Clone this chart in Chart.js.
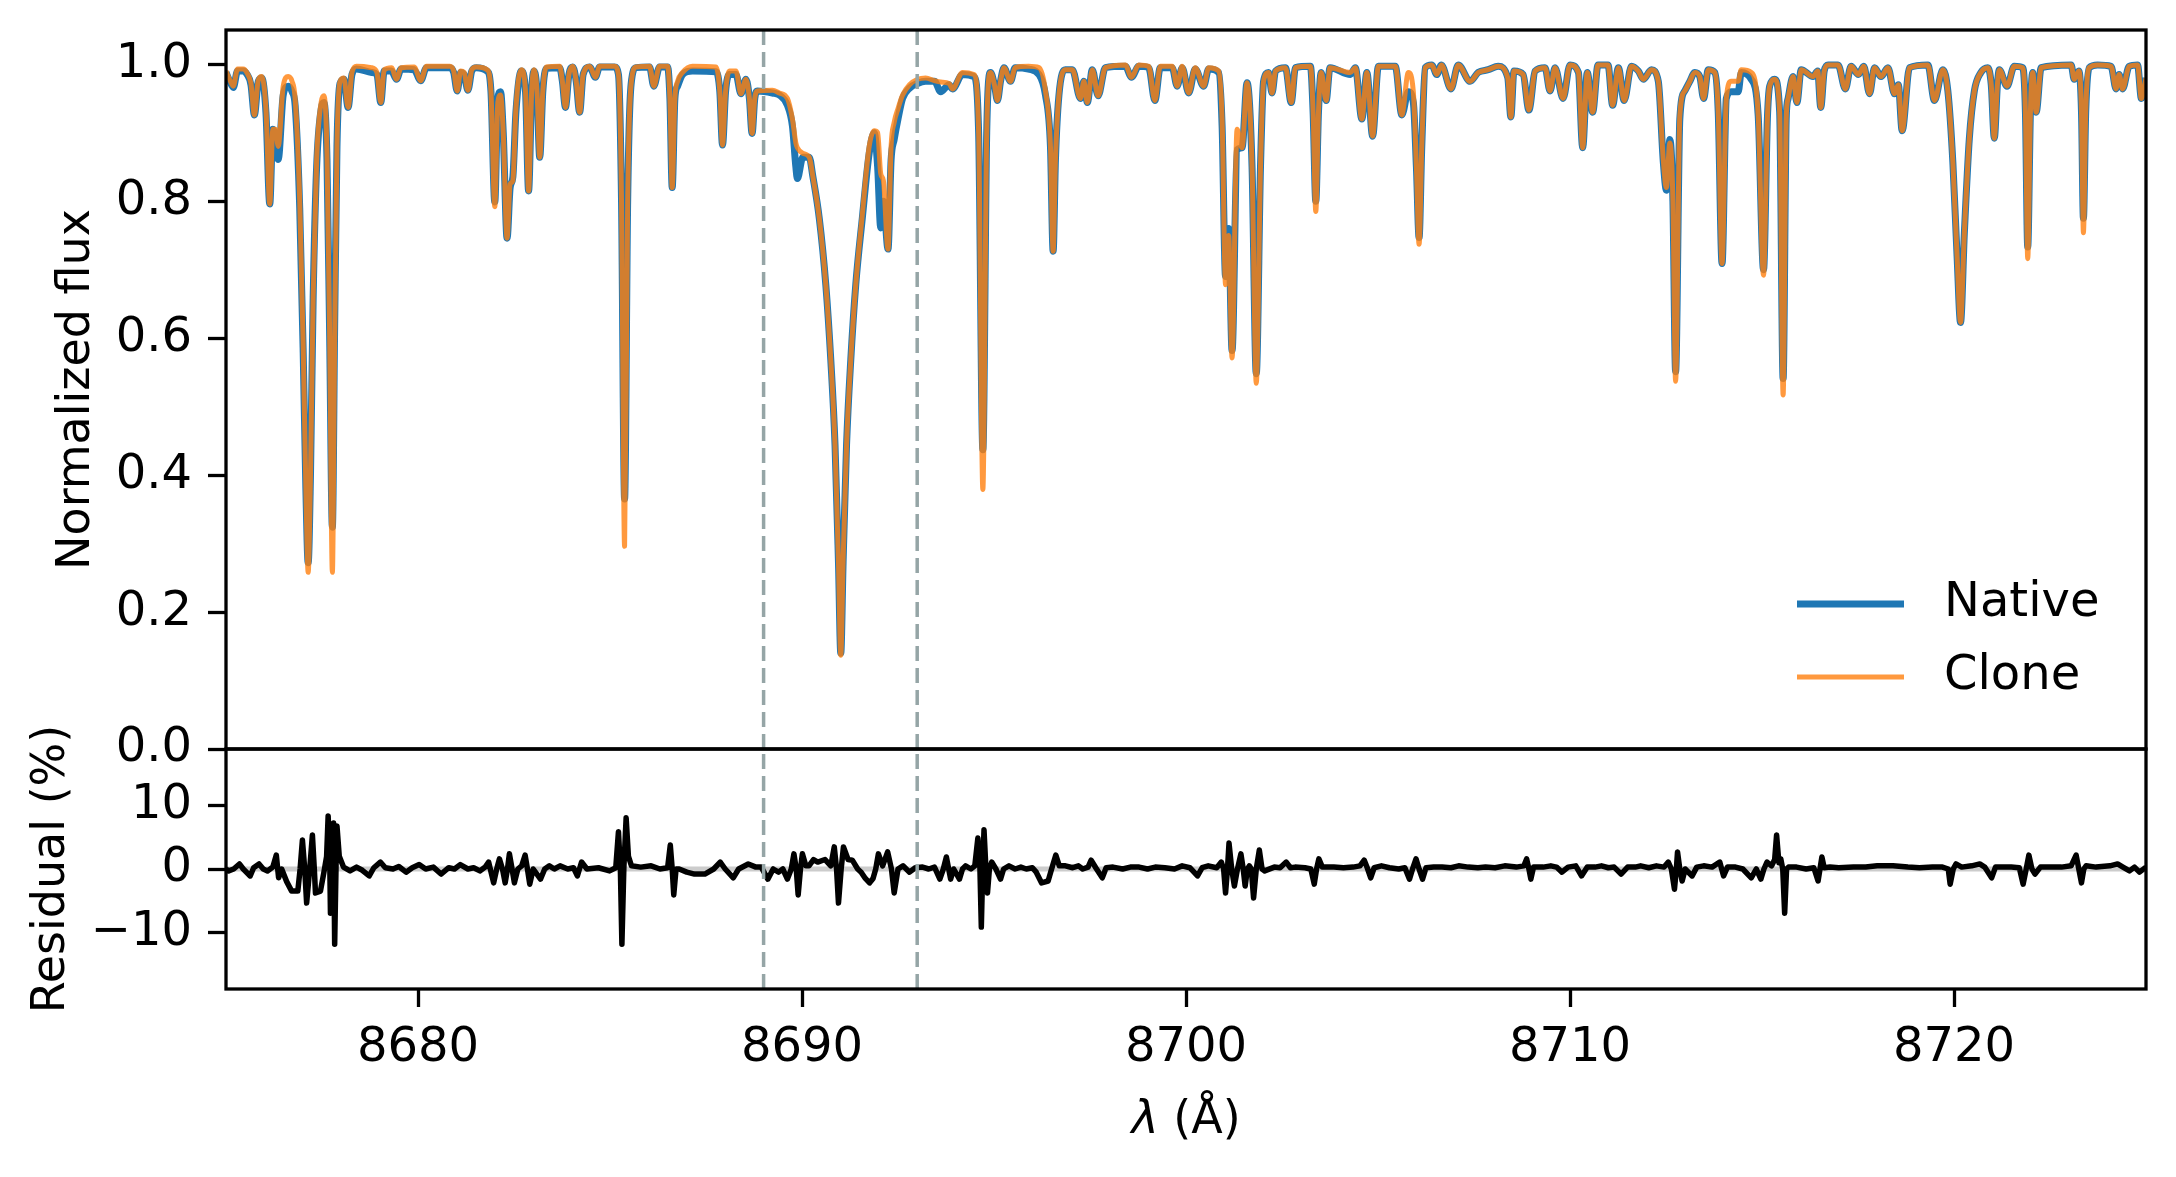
<!DOCTYPE html>
<html>
<head>
<meta charset="utf-8">
<script src="https://cdn.jsdelivr.net/npm/chart.js@4.4.1/dist/chart.umd.min.js"></script>
<style>
  html, body { margin: 0; padding: 0; background: #fff; }
  canvas { display: block; }
</style>
</head>
<body>
<canvas id="spec" width="2176" height="1177"></canvas>
<script>
// upper panel: wavelength grid (Å) and the two spectra
const wave = [
  8675.00, 8675.10, 8675.19, 8675.30, 8675.45, 8675.55, 8675.65, 8675.74, 8675.84, 8675.93,
  8676.04, 8676.14, 8676.22, 8676.29, 8676.36, 8676.49, 8676.62, 8676.72, 8676.80, 8676.92,
  8677.01, 8677.08, 8677.14, 8677.20, 8677.27, 8677.36, 8677.48, 8677.55, 8677.63, 8677.70,
  8677.77, 8677.83, 8677.89, 8677.97, 8678.07, 8678.18, 8678.28, 8678.40, 8678.79, 8678.93,
  8679.03, 8679.12, 8679.31, 8679.44, 8679.56, 8679.90, 8680.07, 8680.22, 8680.83, 8680.93,
  8681.02, 8681.11, 8681.20, 8681.30, 8681.40, 8681.52, 8681.80, 8681.90, 8682.00, 8682.08,
  8682.15, 8682.22, 8682.32, 8682.40, 8682.47, 8682.55, 8682.69, 8682.80, 8682.88, 8682.96,
  8683.02, 8683.10, 8683.17, 8683.25, 8683.34, 8683.69, 8683.76, 8683.84, 8683.93, 8684.03,
  8684.12, 8684.21, 8684.30, 8684.47, 8684.62, 8684.73, 8685.12, 8685.22, 8685.30, 8685.38,
  8685.46, 8685.55, 8685.68, 8686.03, 8686.14, 8686.29, 8686.50, 8686.56, 8686.62, 8686.69,
  8686.76, 8686.89, 8687.15, 8687.76, 8687.86, 8687.93, 8688.01, 8688.11, 8688.28, 8688.41,
  8688.54, 8688.63, 8688.70, 8688.77, 8688.84, 8689.23, 8689.41, 8689.62, 8689.75, 8689.84,
  8689.88, 8690.02, 8690.19, 8690.28, 8690.45, 8690.62, 8690.75, 8690.86, 8690.95, 8691.01,
  8691.07, 8691.16, 8691.27, 8691.40, 8691.57, 8691.75,
  8691.88, 8691.97, 8692.05, 8692.12, 8692.24, 8692.32, 8692.40,
  8692.50, 8692.62, 8692.80, 8693.01, 8693.22, 8693.45, 8693.61, 8693.83, 8693.92, 8694.18,
  8694.48, 8694.60, 8694.71, 8694.81, 8694.91, 8695.01, 8695.09, 8695.17, 8695.26, 8695.43,
  8695.55, 8695.90, 8696.17, 8696.34, 8696.47, 8696.54, 8696.60, 8696.69, 8696.86, 8697.04,
  8697.25, 8697.34, 8697.43, 8697.56, 8697.71, 8697.90, 8698.42, 8698.58, 8698.77, 8699.03,
  8699.19, 8699.33, 8699.64, 8699.77, 8699.90, 8700.07, 8700.24, 8700.46, 8700.59, 8700.85,
  8700.94, 8701.03, 8701.11, 8701.20, 8701.33, 8701.46, 8701.59, 8701.72, 8701.83, 8701.94,
  8702.02, 8702.15, 8702.24, 8702.33, 8702.59, 8702.74, 8702.85, 8703.24, 8703.31, 8703.38,
  8703.45, 8703.52, 8703.65, 8703.75, 8704.28, 8704.41, 8704.58, 8704.71, 8704.86, 8705.01,
  8705.45, 8705.62, 8705.79, 8705.92, 8706.00, 8706.07, 8706.14, 8706.23, 8706.40, 8706.53,
  8706.65, 8706.90, 8707.09, 8707.40, 8707.61, 8707.87, 8708.13, 8708.38, 8708.46, 8708.54,
  8708.78, 8708.93, 8709.09, 8709.35, 8709.48, 8709.61, 8709.82, 8710.00, 8710.22, 8710.33,
  8710.45, 8710.59, 8710.73, 8710.99, 8711.11, 8711.26, 8711.41, 8711.60, 8711.78, 8711.91,
  8712.12, 8712.30, 8712.43, 8712.51, 8712.60, 8712.68, 8712.75, 8712.86, 8712.99, 8713.12,
  8713.25, 8713.38, 8713.48, 8713.60, 8713.77, 8713.86, 8713.96, 8714.07, 8714.20, 8714.38,
  8714.46, 8714.72, 8714.90, 8715.04, 8715.14, 8715.20, 8715.33, 8715.46, 8715.55, 8715.63,
  8715.68, 8715.81, 8715.91, 8716.02, 8716.33, 8716.45, 8716.53, 8716.62, 8716.72, 8716.98,
  8717.17, 8717.32, 8717.51, 8717.65, 8717.80, 8717.93, 8718.10, 8718.28, 8718.45, 8718.55,
  8718.65, 8718.84, 8719.32, 8719.49, 8719.71, 8719.84, 8719.97, 8720.08, 8720.17, 8720.27,
  8720.40, 8720.53, 8720.70, 8720.88, 8720.97, 8721.05, 8721.13, 8721.18, 8721.38, 8721.57,
  8721.79, 8721.86, 8721.92, 8721.99, 8722.05, 8722.14, 8722.27, 8723.05, 8723.13, 8723.25,
  8723.32, 8723.37, 8723.43, 8723.52, 8723.74, 8724.09, 8724.22, 8724.30, 8724.39, 8724.56,
  8724.78, 8724.88, 8725.00
];

const nativeFlux = [
  0.988, 0.975, 0.966, 0.990, 0.990, 0.985, 0.970, 0.926, 0.975, 0.980,
  0.930, 0.796, 0.905, 0.895, 0.861, 0.955, 0.968, 0.960, 0.940, 0.790,
  0.580, 0.380, 0.272, 0.400, 0.660, 0.850, 0.935, 0.944, 0.860, 0.600,
  0.324, 0.620, 0.880, 0.972, 0.978, 0.937, 0.985, 0.993, 0.988, 0.985,
  0.944, 0.990, 0.990, 0.978, 0.993, 0.992, 0.976, 0.995, 0.995, 0.988,
  0.961, 0.988, 0.985, 0.962, 0.990, 0.995, 0.990, 0.960, 0.799, 0.950,
  0.960, 0.900, 0.746, 0.820, 0.835, 0.930, 0.990, 0.960, 0.815, 0.960,
  0.990, 0.960, 0.864, 0.960, 0.994, 0.995, 0.975, 0.937, 0.985, 0.996,
  0.975, 0.930, 0.985, 0.996, 0.981, 0.996, 0.996, 0.985, 0.800, 0.365,
  0.800, 0.971, 0.995, 0.996, 0.968, 0.996, 0.996, 0.950, 0.820, 0.950,
  0.968, 0.985, 0.990, 0.989, 0.960, 0.882, 0.960, 0.985, 0.985, 0.957,
  0.978, 0.950, 0.899, 0.950, 0.961, 0.958, 0.955, 0.940, 0.910, 0.850,
  0.833, 0.864, 0.864, 0.837, 0.775, 0.678, 0.568, 0.444, 0.272, 0.140,
  0.272, 0.444, 0.568, 0.678, 0.775, 0.870,
  0.900, 0.850, 0.761, 0.800, 0.730, 0.860, 0.890,
  0.920, 0.950, 0.965, 0.972, 0.975, 0.975, 0.960, 0.970, 0.964, 0.985,
  0.982, 0.900, 0.437, 0.900, 0.988, 0.970, 0.947, 0.975, 0.995, 0.975,
  0.995, 0.993, 0.985, 0.955, 0.880, 0.727, 0.860, 0.954, 0.992, 0.992,
  0.950, 0.975, 0.944, 0.992, 0.954, 0.995, 0.997, 0.981, 0.997, 0.995,
  0.947, 0.995, 0.995, 0.968, 0.995, 0.958, 0.993, 0.968, 0.993, 0.988,
  0.910, 0.690, 0.760, 0.582, 0.875, 0.878, 0.973, 0.850, 0.548, 0.850,
  0.975, 0.988, 0.958, 0.990, 0.995, 0.944, 0.995, 0.997, 0.930, 0.800,
  0.930, 0.988, 0.947, 0.995, 0.985, 0.995, 0.920, 0.988, 0.895, 0.997,
  0.997, 0.926, 0.960, 0.944, 0.850, 0.747, 0.880, 0.995, 0.999, 0.985,
  0.999, 0.964, 0.999, 0.975, 0.988, 0.992, 0.997, 0.980, 0.923, 0.990,
  0.985, 0.933, 0.990, 0.995, 0.961, 0.995, 0.950, 0.999, 0.988, 0.878,
  0.988, 0.930, 0.999, 0.999, 0.940, 0.995, 0.947, 0.997, 0.990, 0.978,
  0.992, 0.975, 0.857, 0.816, 0.890, 0.800, 0.551, 0.920, 0.961, 0.975,
  0.988, 0.982, 0.950, 0.992, 0.988, 0.930, 0.709, 0.950, 0.960, 0.960,
  0.988, 0.978, 0.926, 0.700, 0.920, 0.968, 0.978, 0.930, 0.541, 0.920,
  0.950, 0.982, 0.944, 0.992, 0.982, 0.990, 0.937, 0.990, 0.999, 0.999,
  0.964, 0.997, 0.985, 0.997, 0.957, 0.995, 0.982, 0.995, 0.957, 0.970,
  0.903, 0.995, 0.999, 0.947, 0.992, 0.961, 0.857, 0.720, 0.623, 0.754,
  0.892, 0.961, 0.988, 0.995, 0.970, 0.892, 0.970, 0.992, 0.968, 0.997,
  0.995, 0.930, 0.733, 0.930, 0.988, 0.930, 0.995, 0.999, 0.978, 0.990,
  0.930, 0.775, 0.930, 0.995, 0.999, 0.997, 0.964, 0.985, 0.964, 0.997,
  0.999, 0.950, 0.980
];

const cloneFlux = [
  0.990, 0.977, 0.968, 0.993, 0.993, 0.987, 0.972, 0.926, 0.977, 0.982,
  0.935, 0.796, 0.905, 0.905, 0.880, 0.968, 0.982, 0.975, 0.950, 0.800,
  0.590, 0.380, 0.258, 0.400, 0.660, 0.860, 0.945, 0.954, 0.870, 0.600,
  0.258, 0.600, 0.880, 0.975, 0.980, 0.937, 0.988, 0.997, 0.995, 0.988,
  0.944, 0.992, 0.995, 0.978, 0.995, 0.996, 0.976, 0.997, 0.997, 0.990,
  0.961, 0.990, 0.988, 0.962, 0.992, 0.996, 0.992, 0.960, 0.792, 0.945,
  0.955, 0.900, 0.746, 0.825, 0.830, 0.935, 0.992, 0.960, 0.815, 0.960,
  0.992, 0.960, 0.864, 0.960, 0.996, 0.997, 0.975, 0.937, 0.985, 0.997,
  0.975, 0.930, 0.985, 0.997, 0.981, 0.997, 0.997, 0.985, 0.800, 0.296,
  0.800, 0.971, 0.996, 0.997, 0.968, 0.997, 0.997, 0.950, 0.820, 0.950,
  0.975, 0.988, 0.997, 0.996, 0.960, 0.882, 0.960, 0.990, 0.990, 0.957,
  0.978, 0.950, 0.899, 0.950, 0.961, 0.962, 0.958, 0.950, 0.920, 0.885,
  0.878, 0.870, 0.864, 0.837, 0.775, 0.678, 0.568, 0.444, 0.272, 0.137,
  0.272, 0.444, 0.568, 0.678, 0.780, 0.880,
  0.903, 0.900, 0.840, 0.830, 0.730, 0.880, 0.915,
  0.935, 0.955, 0.970, 0.978, 0.980, 0.976, 0.974, 0.972, 0.964, 0.988,
  0.985, 0.900, 0.379, 0.900, 0.988, 0.970, 0.947, 0.975, 0.995, 0.975,
  0.995, 0.997, 0.995, 0.961, 0.880, 0.727, 0.860, 0.954, 0.992, 0.992,
  0.950, 0.975, 0.944, 0.992, 0.954, 0.995, 0.999, 0.981, 0.999, 0.997,
  0.947, 0.997, 0.997, 0.968, 0.997, 0.958, 0.995, 0.968, 0.995, 0.990,
  0.920, 0.678, 0.750, 0.571, 0.905, 0.878, 0.973, 0.850, 0.534, 0.850,
  0.975, 0.988, 0.958, 0.990, 0.995, 0.944, 0.995, 0.997, 0.930, 0.785,
  0.930, 0.988, 0.947, 0.995, 0.988, 0.995, 0.920, 0.988, 0.895, 0.997,
  0.997, 0.926, 0.988, 0.960, 0.850, 0.737, 0.880, 0.995, 0.999, 0.985,
  0.999, 0.964, 0.999, 0.975, 0.988, 0.992, 0.997, 0.980, 0.923, 0.990,
  0.985, 0.933, 0.990, 0.995, 0.961, 0.995, 0.950, 0.999, 0.988, 0.878,
  0.988, 0.930, 0.999, 0.999, 0.940, 0.995, 0.947, 0.997, 0.990, 0.978,
  0.992, 0.975, 0.860, 0.820, 0.885, 0.800, 0.537, 0.925, 0.961, 0.975,
  0.988, 0.982, 0.950, 0.992, 0.988, 0.930, 0.709, 0.950, 0.975, 0.975,
  0.992, 0.988, 0.926, 0.692, 0.920, 0.968, 0.978, 0.930, 0.517, 0.920,
  0.950, 0.982, 0.944, 0.992, 0.982, 0.990, 0.937, 0.990, 0.999, 0.999,
  0.964, 0.997, 0.985, 0.997, 0.957, 0.995, 0.982, 0.995, 0.957, 0.970,
  0.903, 0.995, 0.999, 0.947, 0.992, 0.961, 0.857, 0.720, 0.623, 0.754,
  0.892, 0.961, 0.988, 0.995, 0.970, 0.892, 0.970, 0.992, 0.968, 0.997,
  0.995, 0.930, 0.716, 0.930, 0.988, 0.930, 0.995, 0.999, 0.978, 0.990,
  0.930, 0.754, 0.930, 0.995, 0.999, 0.997, 0.964, 0.985, 0.964, 0.997,
  0.999, 0.950, 0.980
];

// lower panel: residual in percent
const residWave = [
  8675.00, 8675.07, 8675.20, 8675.35, 8675.45, 8675.63, 8675.72, 8675.86, 8675.97, 8676.08,
  8676.22, 8676.31, 8676.37, 8676.45, 8676.58, 8676.71, 8676.87, 8676.93, 8676.99, 8677.05,
  8677.10, 8677.18, 8677.25, 8677.30, 8677.33, 8677.46, 8677.55, 8677.62, 8677.66, 8677.70,
  8677.72, 8677.76, 8677.80, 8677.83, 8677.87, 8677.89, 8677.95, 8678.06, 8678.23, 8678.40,
  8678.55, 8678.73, 8678.85, 8679.02, 8679.15, 8679.35, 8679.50, 8679.69, 8679.85, 8680.03,
  8680.20, 8680.40, 8680.60, 8680.80, 8680.95, 8681.10, 8681.30, 8681.45, 8681.61, 8681.75,
  8681.84, 8681.97, 8682.05, 8682.12, 8682.20, 8682.27, 8682.33, 8682.38, 8682.45, 8682.51,
  8682.60, 8682.70, 8682.79, 8682.85, 8682.91, 8683.00, 8683.19, 8683.30, 8683.42, 8683.55,
  8683.70, 8683.90, 8684.05, 8684.15, 8684.26, 8684.40, 8684.70, 8684.99, 8685.15, 8685.22,
  8685.27, 8685.31, 8685.36, 8685.42, 8685.48, 8685.56, 8685.80, 8686.07, 8686.30, 8686.50,
  8686.57, 8686.62, 8686.66, 8686.72, 8686.80, 8687.00, 8687.20, 8687.47, 8687.70, 8687.87,
  8688.00, 8688.21, 8688.35, 8688.60, 8688.80, 8688.94, 8689.11, 8689.25, 8689.39, 8689.50,
  8689.62, 8689.72, 8689.79, 8689.85, 8689.90, 8689.96, 8690.01, 8690.10, 8690.18, 8690.30,
  8690.41, 8690.60, 8690.75, 8690.84, 8690.90, 8690.95, 8691.02, 8691.08, 8691.20, 8691.31,
  8691.45, 8691.54, 8691.65, 8691.76, 8691.85, 8691.92, 8691.99, 8692.10, 8692.23, 8692.33,
  8692.40, 8692.50, 8692.63, 8692.80, 8692.95, 8693.14, 8693.30, 8693.45, 8693.59, 8693.68,
  8693.76, 8693.82, 8693.87, 8693.95, 8694.10, 8694.18, 8694.26, 8694.40, 8694.50, 8694.58,
  8694.63, 8694.67, 8694.71, 8694.74, 8694.79, 8694.83, 8694.88, 8694.94, 8695.05, 8695.17,
  8695.25, 8695.39, 8695.55, 8695.70, 8695.84, 8696.00, 8696.10, 8696.24, 8696.41, 8696.50,
  8696.61, 8696.70, 8696.86, 8697.05, 8697.20, 8697.31, 8697.45, 8697.53, 8697.65, 8697.82,
  8697.92, 8698.10, 8698.35, 8698.55, 8698.78, 8699.00, 8699.20, 8699.45, 8699.70, 8699.90,
  8700.10, 8700.30, 8700.42, 8700.58, 8700.80, 8700.92, 8700.98, 8701.03, 8701.08, 8701.12,
  8701.19, 8701.26, 8701.34, 8701.43, 8701.49, 8701.54, 8701.60, 8701.65, 8701.70, 8701.76,
  8701.83, 8701.91, 8701.98, 8702.05, 8702.30, 8702.45, 8702.61, 8702.72, 8702.84, 8703.10,
  8703.25, 8703.34, 8703.40, 8703.46, 8703.55, 8703.85, 8704.10, 8704.35, 8704.53, 8704.64,
  8704.72, 8704.81, 8704.90, 8705.09, 8705.30, 8705.54, 8705.70, 8705.82, 8705.90, 8705.99,
  8706.07, 8706.16, 8706.25, 8706.45, 8706.67, 8706.90, 8707.10, 8707.35, 8707.60, 8707.80,
  8708.05, 8708.30, 8708.60, 8708.80, 8708.87, 8708.93, 8708.98, 8709.05, 8709.30, 8709.50,
  8709.65, 8709.79, 8709.95, 8710.15, 8710.30, 8710.45, 8710.65, 8710.82, 8711.00, 8711.15,
  8711.33, 8711.50, 8711.70, 8711.84, 8712.05, 8712.25, 8712.45, 8712.56, 8712.64, 8712.72,
  8712.77, 8712.80, 8712.86, 8712.92, 8713.00, 8713.18, 8713.30, 8713.48, 8713.70, 8713.90,
  8713.95, 8714.00, 8714.10, 8714.31, 8714.50, 8714.72, 8714.85, 8714.97, 8715.05, 8715.13,
  8715.25, 8715.33, 8715.38, 8715.44, 8715.49, 8715.54, 8715.59, 8715.64, 8715.69, 8715.90,
  8716.15, 8716.35, 8716.46, 8716.51, 8716.56, 8716.62, 8716.77, 8717.00, 8717.38, 8717.70,
  8718.00, 8718.41, 8718.80, 8719.10, 8719.44, 8719.70, 8719.85, 8719.90, 8719.98, 8720.05,
  8720.20, 8720.46, 8720.67, 8720.80, 8720.98, 8721.08, 8721.30, 8721.49, 8721.70, 8721.80,
  8721.88, 8721.95, 8722.03, 8722.11, 8722.25, 8722.52, 8722.80, 8723.05, 8723.18, 8723.25,
  8723.32, 8723.38, 8723.44, 8723.70, 8724.06, 8724.26, 8724.40, 8724.57, 8724.70, 8724.83,
  8725.00
];

const residPct = [
  0.0, -0.3, 0.0, 0.8, 0.0, -1.1, 0.2, 0.8, 0.0, -0.3,
  0.3, 2.2, -1.4, 0.0, -2.0, -3.5, -3.5, 0.0, 4.6, 0.0,
  -5.4, 0.0, 5.4, 0.0, -3.8, -3.5, -0.5, 2.0, 8.4, 2.0,
  -7.0, 3.0, 7.3, -11.9, 2.0, 6.8, 2.0, 0.3, -0.3, 0.3,
  -0.2, -1.1, 0.2, 1.1, 0.2, 0.0, 0.4, -0.5, 0.2, 0.7,
  0.0, 0.3, -0.8, 0.2, 0.0, 0.7, 0.0, 0.2, -0.3, 0.3,
  1.1, -2.2, 0.0, 1.6, 0.0, -2.2, 0.0, 2.4, 0.0, -2.2,
  0.0, 0.5, 2.2, 0.0, -2.4, 0.0, -1.6, 0.0, 0.5, 0.0,
  0.5, 0.0, 0.2, -1.1, 1.1, 0.0, 0.2, -0.3, 0.2, 5.9,
  0.0, -11.9, 0.0, 8.1, 2.0, 0.5, 0.3, 0.5, 0.0, 0.2,
  3.8, 0.0, -4.1, 0.0, 0.0, -0.5, -0.8, -0.8, 0.0, 1.1,
  0.0, -1.4, 0.0, 0.8, 0.3, 0.3, -1.6, 0.0, -0.5, 0.0,
  -1.6, 0.0, 2.4, 0.0, -4.1, 0.0, 2.4, 0.5, 0.5, 1.5,
  1.1, 1.5, 0.5, 3.5, 0.0, -5.4, 0.0, 3.5, 1.5, 1.4,
  0.0, -0.5, -1.5, -2.2, -1.5, 0.0, 2.4, 0.5, 2.7, 0.0,
  -3.8, 0.0, 0.5, -0.5, 0.2, 0.3, 0.0, 0.3, -1.6, 0.0,
  1.9, 0.0, -1.6, 0.0, -1.6, 0.0, 0.5, 0.0, 0.5, 4.9,
  1.0, -9.2, 1.0, 6.2, 0.0, -3.8, 0.0, 1.1, 0.0, -1.6,
  0.0, 0.5, 0.0, 0.3, 0.0, 0.2, -0.5, -2.2, -1.9, 0.0,
  2.2, 0.5, 0.5, 0.2, 0.5, 0.0, 0.3, 1.4, 0.2, -1.4,
  0.2, 0.3, 0.0, 0.3, 0.3, 0.0, 0.3, 0.2, 0.0, 0.5,
  0.2, -1.1, 0.2, 0.5, 0.2, 1.1, 0.0, -3.8, 0.0, 4.1,
  0.0, -2.7, 0.0, 2.4, 0.0, -2.7, 0.0, 0.5, 0.0, -4.6,
  0.0, 3.0, 0.0, -0.3, 0.3, 0.2, 1.1, 0.2, 0.3, 0.2,
  0.0, -2.4, 0.0, 1.6, 0.3, 0.3, 0.2, 0.3, 0.5, 1.4,
  0.2, -1.4, 0.2, 0.5, 0.2, 0.0, 0.2, -1.6, 0.0, 1.6,
  0.0, -1.6, 0.2, 0.3, 0.3, 0.2, 0.5, 0.3, 0.2, 0.3,
  0.2, 0.5, 0.3, 0.5, 1.6, 0.0, -1.6, 0.3, 0.3, 0.5,
  0.3, -0.5, 0.3, 0.5, -1.1, 0.3, 0.3, 0.5, 0.2, 0.3,
  -0.8, 0.3, 0.3, 0.5, 0.2, 0.5, 0.3, 1.1, 0.0, -3.2,
  0.0, 2.7, 0.0, -1.9, 0.0, -1.1, 0.3, 0.5, 0.3, 1.1,
  0.0, -1.1, 0.3, 0.3, 0.0, -1.4, 0.0, -1.6, 0.0, 1.1,
  0.5, 1.5, 5.4, 1.0, 1.6, 0.0, -7.0, 0.0, 0.3, 0.3,
  0.0, 0.2, -1.9, 0.0, 1.9, 0.2, 0.3, 0.2, 0.3, 0.3,
  0.5, 0.5, 0.3, 0.2, 0.3, 0.3, 0.0, -2.4, 0.0, 0.8,
  0.3, 0.5, 0.8, 0.3, -1.4, 0.3, 0.3, 0.3, 0.2, -2.4,
  0.0, 2.2, 0.0, -0.8, 0.3, 0.3, 0.3, 0.5, 2.2, 0.0,
  -2.2, 0.0, 0.5, 0.3, 0.5, 0.8, 0.3, -0.3, 0.3, -0.5,
  0.3
];

// the two dashed markers, axis ranges and tick labels
const windowEdges = [8689, 8693];
const waveRange = [8675, 8725];
const fluxRange = [0, 1.05];
const residRange = [-19, 19];
const waveTicks = [8680, 8690, 8700, 8710, 8720];
const fluxTicks = [0, 0.2, 0.4, 0.6, 0.8, 1.0];
const residTicks = [-10, 0, 10];
const legendNames = ['Native', 'Clone'];

Chart.defaults.font.family = '"DejaVu Sans", sans-serif';
Chart.defaults.color = '#000';

const pts = (xs, ys) => xs.map((x, i) => ({ x: x, y: ys[i] }));
const tickFont = { size: 48 };
const tickGrid = { display: true, drawOnChartArea: false, drawTicks: true, tickLength: 18, tickWidth: 3.3, tickColor: '#000' };

const datasets = [
  { label: 'Clone', data: pts(wave, cloneFlux), yAxisID: 'yFlux', borderColor: 'rgba(255,127,14,0.8)', borderWidth: 5, order: 1, cubicInterpolationMode: 'monotone' },
  { label: 'Native', data: pts(wave, nativeFlux), yAxisID: 'yFlux', borderColor: '#1f77b4', borderWidth: 7, order: 2, cubicInterpolationMode: 'monotone' },
  { label: 'Residual', data: pts(residWave, residPct), yAxisID: 'yRes', borderColor: '#000', borderWidth: 5.5, order: 1 },
  { label: 'zero', data: pts(waveRange, [0, 0]), yAxisID: 'yRes', borderColor: '#cccccc', borderWidth: 5, order: 3 }
];
windowEdges.forEach(w => {
  datasets.push({ label: 'edge', data: pts([w, w], fluxRange), yAxisID: 'yFlux', borderColor: '#95a5a6', borderWidth: 3.5, borderDash: [15, 7], borderCapStyle: 'butt', order: 0 });
  datasets.push({ label: 'edge', data: pts([w, w], residRange), yAxisID: 'yRes', borderColor: '#95a5a6', borderWidth: 3.5, borderDash: [15, 7], borderCapStyle: 'butt', order: 0 });
});

// box around each panel, like matplotlib spines
const frames = {
  id: 'frames',
  afterDatasetsDraw(chart) {
    const ctx = chart.ctx, a = chart.chartArea;
    ctx.save();
    ctx.strokeStyle = '#000';
    ctx.lineWidth = 3.3;
    ['yFlux', 'yRes'].forEach(id => {
      const s = chart.scales[id];
      ctx.strokeRect(a.left, s.top, a.right - a.left, s.bottom - s.top);
    });
    ctx.restore();
  }
};

// legend in the lower right of the flux panel
const legendBox = {
  id: 'legendBox',
  afterDraw(chart) {
    const ctx = chart.ctx, a = chart.chartArea, s = chart.scales.yFlux;
    ctx.save();
    legendNames.forEach((name, i) => {
      const ds = chart.data.datasets.find(d => d.label === name);
      const y = s.bottom - 145 + i * 73;
      ctx.strokeStyle = ds.borderColor;
      ctx.lineWidth = ds.borderWidth;
      ctx.beginPath();
      ctx.moveTo(a.right - 349, y);
      ctx.lineTo(a.right - 242, y);
      ctx.stroke();
      ctx.fillStyle = '#000';
      ctx.font = '48px "DejaVu Sans"';
      ctx.textBaseline = 'middle';
      ctx.textAlign = 'left';
      ctx.fillText(name, a.right - 202, y);
    });
    ctx.restore();
  }
};

// x label with an italic lambda
const xLabel = {
  id: 'xLabel',
  afterDraw(chart) {
    const ctx = chart.ctx, a = chart.chartArea;
    const cx = (a.left + a.right) / 2, y = a.bottom + 144;
    ctx.save();
    ctx.fillStyle = '#000';
    ctx.textBaseline = 'alphabetic';
    ctx.textAlign = 'left';
    ctx.font = 'italic 46px "DejaVu Sans"';
    const w1 = ctx.measureText('λ').width;
    ctx.font = '46px "DejaVu Sans"';
    const w2 = ctx.measureText(' (Å)').width;
    const x0 = cx - (w1 + w2) / 2;
    ctx.font = 'italic 46px "DejaVu Sans"';
    ctx.fillText('λ', x0, y);
    ctx.font = '46px "DejaVu Sans"';
    ctx.fillText(' (Å)', x0 + w1, y);
    ctx.restore();
  }
};

const fitLeft = s => { s.width = 226; s.paddingTop = 0; s.paddingBottom = 0; };

new Chart(document.getElementById('spec'), {
  type: 'line',
  data: { datasets: datasets },
  options: {
    responsive: false,
    devicePixelRatio: 1,
    animation: false,
    layout: { padding: { top: 30, right: 30, left: 0, bottom: 0 } },
    elements: {
      point: { radius: 0 },
      line: { borderJoinStyle: 'round', tension: 0 }
    },
    plugins: { legend: { display: false }, tooltip: { enabled: false } },
    scales: {
      x: {
        type: 'linear',
        position: 'bottom',
        min: waveRange[0],
        max: waveRange[1],
        afterBuildTicks: s => { s.ticks = waveTicks.map(v => ({ value: v })); },
        afterFit: s => { s.height = 188; s.paddingLeft = 0; s.paddingRight = 0; },
        ticks: { font: tickFont, padding: 13, maxRotation: 0, autoSkip: false, callback: v => String(v) },
        grid: tickGrid,
        border: { display: false }
      },
      yRes: {
        type: 'linear',
        position: 'left',
        stack: 'panels',
        stackWeight: 240,
        min: residRange[0],
        max: residRange[1],
        afterBuildTicks: s => { s.ticks = residTicks.map(v => ({ value: v })); },
        afterFit: fitLeft,
        ticks: { font: tickFont, padding: 16, callback: v => (v < 0 ? '\u2212' + Math.abs(v) : String(v)) },
        grid: tickGrid,
        border: { display: false },
        title: { display: true, text: 'Residual (%)', font: { size: 46 }, padding: { top: 24, bottom: 0 } }
      },
      yFlux: {
        type: 'linear',
        position: 'left',
        stack: 'panels',
        stackWeight: 719,
        min: fluxRange[0],
        max: fluxRange[1],
        afterBuildTicks: s => { s.ticks = fluxTicks.map(v => ({ value: v })); },
        afterFit: fitLeft,
        ticks: { font: tickFont, padding: 16, callback: v => v.toFixed(1) },
        grid: tickGrid,
        border: { display: false },
        title: { display: true, text: 'Normalized flux', font: { size: 46 }, padding: { top: 49, bottom: 0 } }
      }
    }
  },
  plugins: [frames, legendBox, xLabel]
});
</script>
</body>
</html>
